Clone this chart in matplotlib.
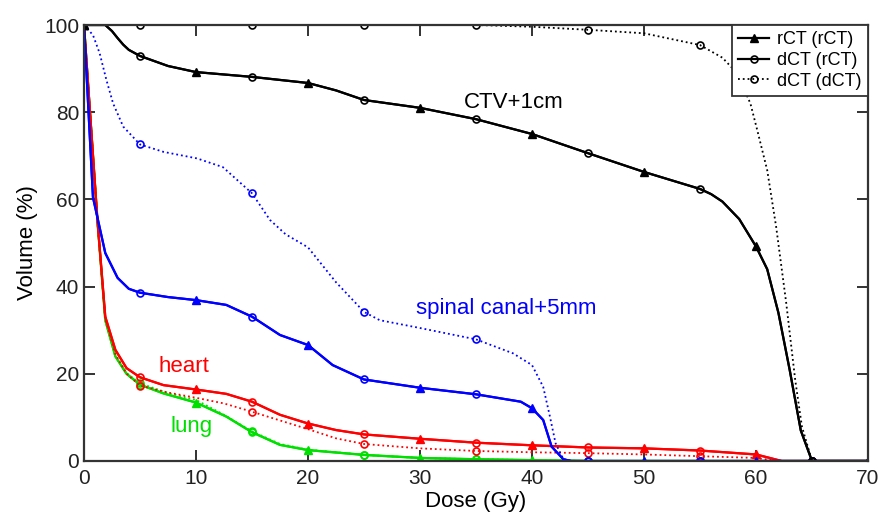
import numpy as np
import matplotlib
matplotlib.use("Agg")
import matplotlib.pyplot as plt
from matplotlib.lines import Line2D

plt.rcParams['font.family'] = ['Liberation Sans', 'DejaVu Sans']

# ---- data (dose in Gy, volume in %) ----
ctv_dose = [0, 1.9, 2.5, 3, 3.5, 4, 5, 7.5, 10, 15, 20, 22.5, 25, 30, 35, 40, 45, 50, 55, 56, 57, 58.5, 60, 61, 62, 63, 64, 65, 70]
ctv_vol = [100, 100, 98.6, 97, 95.5, 94.3, 92.9, 90.6, 89.2, 88.1, 86.7, 85, 82.8, 81, 78.4, 75, 70.6, 66.3, 62.4, 61.2, 59.5, 55.5, 49.2, 44, 34, 21, 7, 0, 0]

ctv_d_dose = [0, 5, 15, 25, 35, 40, 45, 50, 55, 57, 58.3, 59.5, 60.1, 61, 61.8, 62.7, 63.5, 64.1, 65, 70]
ctv_d_vol = [100, 100, 100, 100, 100, 99.6, 98.9, 98.1, 95.4, 92.5, 89, 82, 76, 66.7, 53.7, 36.2, 18.6, 7.9, 0, 0]

sc_dose = [0, 0.8, 1.9, 3, 4, 5, 7.5, 10, 12.7, 15, 17.5, 20, 22.2, 25, 30, 35, 39, 40, 41, 41.75, 42.8, 43.5, 45, 50, 55, 60, 65, 70]
sc_vol = [100, 60.5, 47.7, 42, 39.5, 38.6, 37.6, 36.9, 35.8, 33.1, 28.9, 26.6, 22, 18.7, 16.8, 15.3, 13.6, 12.1, 9.4, 3.3, 0.4, 0, 0, 0, 0, 0, 0, 0]

sc_d_dose = [0, 0.8, 1.4, 2, 2.6, 3.5, 5, 7.1, 10.1, 12.4, 15, 16.6, 18, 20, 22.5, 25, 26.4, 30, 35, 38.3, 40, 41, 41.6, 42.1, 42.8, 43.5, 45, 55, 65, 70]
sc_d_vol = [100, 97.7, 93.5, 87.4, 82, 76.7, 72.6, 70.9, 69.4, 67.4, 61.4, 55.3, 52, 49, 41, 34.2, 32.3, 30.5, 27.9, 24.7, 22, 17, 10.2, 4.1, 0.4, 0, 0, 0, 0, 0]

heart_dose = [0, 1.2, 1.9, 2.8, 3.8, 5, 7.1, 10, 12.7, 15, 17.5, 20, 22.5, 25, 30, 35, 40, 45, 50, 55, 60, 62.3, 65, 70]
heart_vol = [100, 55.3, 33.1, 25.5, 21.3, 19.2, 17.4, 16.4, 15.4, 13.6, 10.6, 8.6, 7.1, 6.1, 5.1, 4.2, 3.6, 3.1, 2.9, 2.4, 1.5, 0, 0, 0]

heart_d_dose = [0, 1.2, 1.9, 2.8, 3.8, 5, 7.5, 10, 12.5, 15, 17.5, 20, 22.5, 25, 30, 35, 40, 45, 50, 55, 60, 62, 65, 70]
heart_d_vol = [100, 55, 32.5, 24.5, 20, 17.3, 15.7, 14.5, 13.2, 11.3, 9.3, 7.3, 5.2, 3.9, 2.9, 2.3, 2.0, 1.8, 1.5, 1.1, 0.7, 0, 0, 0]

lung_dose = [0, 1.2, 1.9, 2.8, 3.8, 5, 7.1, 10, 12.7, 15, 17.5, 20, 25, 30, 35, 40, 45, 50, 55, 60, 65, 70]
lung_vol = [100, 55, 32.3, 24, 20, 17.5, 15.5, 13.4, 10.2, 6.6, 3.7, 2.5, 1.4, 0.7, 0.4, 0.2, 0, 0, 0, 0, 0, 0]

lung_d_dose = [0, 1.2, 1.9, 2.8, 3.8, 5, 7.5, 10, 12.5, 15, 17.5, 20, 25, 30, 35, 40, 45, 55, 65, 70]
lung_d_vol = [100, 55, 32.4, 24.2, 20.2, 17.8, 15.6, 14.0, 10.6, 6.8, 3.9, 2.6, 1.4, 0.7, 0.4, 0.2, 0, 0, 0, 0]

tri_doses = [0, 10, 20, 30, 40, 50, 60, 70]
circ_doses = [5, 15, 25, 35, 45, 55, 65]

labels = ['rCT (rCT)', 'dCT (rCT)', 'dCT (dCT)']


def idx(dose, which):
    return list(np.where(np.isin(dose, which))[0])


fig = plt.figure(figsize=(8.83, 5.16), dpi=100)
ax = fig.add_axes([84 / 883, 55 / 516, 784 / 883, 436 / 516])

curves = [
    ('#00e000', lung_dose, lung_vol, lung_d_dose, lung_d_vol),
    ('#ff0000', heart_dose, heart_vol, heart_d_dose, heart_d_vol),
    ('#0000ff', sc_dose, sc_vol, sc_d_dose, sc_d_vol),
    ('black', ctv_dose, ctv_vol, ctv_d_dose, ctv_d_vol),
]

for col, d, v, dd, dv in curves:
    ax.plot(dd, dv, ':', color=col, lw=1.3, marker='o', ms=5, mfc='none', mew=1.2,
            markevery=idx(dd, circ_doses))
    ax.plot(d, v, '-', color=col, lw=1.6, marker='o', ms=5, mfc='none', mew=1.2,
            markevery=idx(d, circ_doses))
    ax.plot(d, v, '-', color=col, lw=1.6, marker='^', ms=6, mew=1.0,
            markevery=idx(d, tri_doses))

ax.text(38.4, 82.3, 'CTV+1cm', fontsize=16, color='black', ha='center', va='center')
ax.text(37.7, 35.0, 'spinal canal+5mm', fontsize=16, color='#0000ff', ha='center', va='center')
ax.text(8.9, 21.6, 'heart', fontsize=16, color='#ff0000', ha='center', va='center')
ax.text(9.6, 7.8, 'lung', fontsize=16, color='#00e000', ha='center', va='center')

ax.set_xlim(0, 70)
ax.set_ylim(0, 100)
ax.set_xticks(range(0, 71, 10))
ax.set_yticks(range(0, 101, 20))
ax.tick_params(direction='in', length=8, width=1.3, top=True, right=True, labelsize=15, colors='#222222')
ax.tick_params(axis='x', pad=6)
for s in ax.spines.values():
    s.set_linewidth(1.6)
    s.set_color('#333333')
ax.set_xlabel('Dose (Gy)', fontsize=16, labelpad=2)
ax.set_ylabel('Volume (%)', fontsize=16, labelpad=4)

handles = [
    Line2D([], [], color='black', lw=1.6, marker='^', ms=6),
    Line2D([], [], color='black', lw=1.6, marker='o', ms=5, mfc='none', mew=1.2),
    Line2D([], [], color='black', lw=1.3, ls=':', marker='o', ms=5, mfc='none', mew=1.2),
]
leg = ax.legend(handles, labels, loc='upper right', fontsize=13, fancybox=False,
                framealpha=1, edgecolor='#333333', borderaxespad=0, handlelength=1.7,
                borderpad=0.35, labelspacing=0.2, handletextpad=0.45)
leg.get_frame().set_linewidth(1.3)

fig.savefig('out.png', dpi=100)
